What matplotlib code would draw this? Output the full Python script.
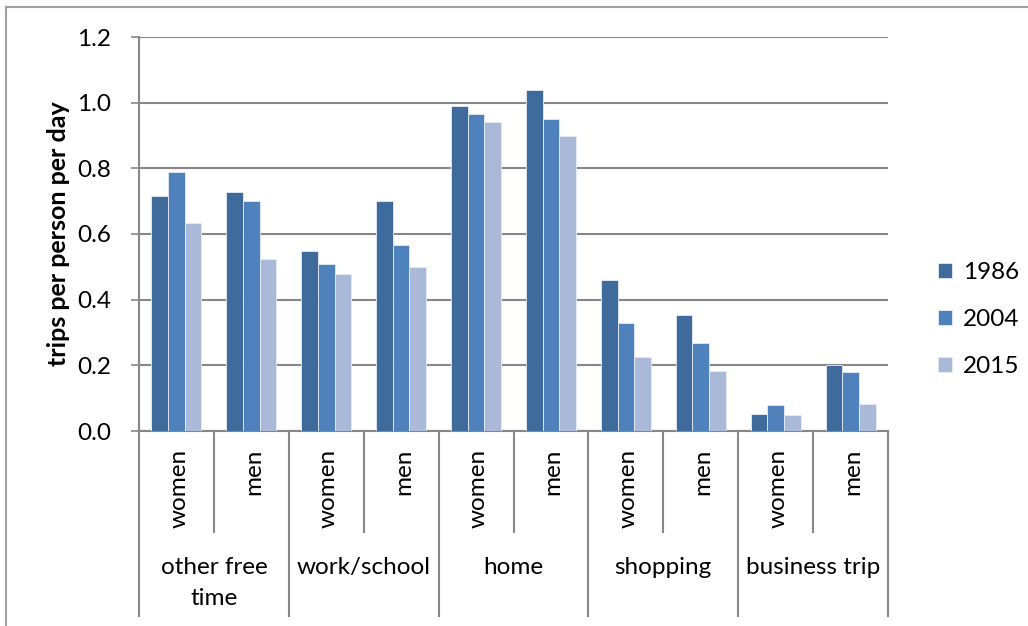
import matplotlib
matplotlib.use("Agg")
import matplotlib.pyplot as plt
from matplotlib.lines import Line2D
import numpy as np

groups = ["other free\ntime", "work/school", "home", "shopping", "business trip"]
genders = ["women", "men"]
years = ["1986", "2004", "2015"]
v1986 = [0.715, 0.727, 0.548, 0.701, 0.989, 1.040, 0.459, 0.354, 0.052, 0.200]
v2004 = [0.788, 0.702, 0.509, 0.565, 0.967, 0.950, 0.330, 0.267, 0.078, 0.180]
v2015 = [0.632, 0.525, 0.478, 0.499, 0.940, 0.898, 0.224, 0.184, 0.050, 0.082]
yticks = [0.0, 0.2, 0.4, 0.6, 0.8, 1.0, 1.2]
ylabel = "trips per person per day"

colors = ["#3F6A9C", "#4F81BD", "#AAB9D7"]
FONT = ["Lato", "DejaVu Sans"]
plt.rcParams['font.family'] = FONT
FS = 17.5

W, H = 1028, 626
fig = plt.figure(figsize=(W / 100, H / 100), dpi=100)
ax = fig.add_axes([139 / W, 1 - 431 / H, (888 - 139) / W, (431 - 37) / H])

series = [v1986, v2004, v2015]
n = len(v1986)
x = np.arange(n)
bw = 1 / 4.5
for i, (vals, c, lab) in enumerate(zip(series, colors, years)):
    ax.bar(x + (i - 1) * bw, vals, width=bw, color=c, edgecolor="#E6ECF5",
           linewidth=0.6, label=lab, zorder=3)

ax.set_xlim(-0.5, n - 0.5)
ax.set_ylim(0, 1.2)
ax.set_yticks(yticks)
ax.set_yticklabels([f"{t:.1f}" for t in yticks], fontsize=FS)
ax.yaxis.grid(True, color="#878787", linewidth=1.5, zorder=0)
ax.tick_params(axis='y', length=6, width=1.2, color="#878787", pad=14)
ax.set_xticks([])
for s in ["top", "right"]:
    ax.spines[s].set_visible(False)
for s in ["left", "bottom"]:
    ax.spines[s].set_color("#878787")
    ax.spines[s].set_linewidth(1.5)
ax.set_ylabel(ylabel, fontsize=FS + 0.5, fontweight="bold", labelpad=5)

# category separators
axh = 431 - 37
inner_bot = (431 - 532) / axh
outer_bot = (431 - 616) / axh
trans = ax.get_xaxis_transform()
for b in np.arange(-0.5, n, 1.0):
    gi = int(b + 0.5)
    ybot = outer_bot if gi % 2 == 0 else inner_bot
    ax.add_line(Line2D([b, b], [0, ybot], transform=trans, color="#878787",
                       linewidth=1.5, clip_on=False))

# gender labels
for i in range(n):
    ax.text(i + 0.03, (431 - 449) / axh, genders[i % 2], transform=trans,
            rotation=90, ha="center", va="top", fontsize=FS)

# group labels
for g, name in enumerate(groups):
    ax.text(2 * g + 0.5, (431 - 557) / axh, name, transform=trans,
            ha="center", va="top", fontsize=FS, linespacing=1.6)

leg = ax.legend(loc="upper left", bbox_to_anchor=(1.037, 0.485), frameon=False,
                fontsize=FS, handlelength=0.6, handleheight=0.6,
                handletextpad=0.45, labelspacing=1.08)

# outer border
fig.add_artist(Line2D([6 / W, 6 / W], [0, 1 - 7 / H], transform=fig.transFigure,
                      color="#A0A0A0", linewidth=1.5))
fig.add_artist(Line2D([6 / W, 1], [1 - 7 / H, 1 - 7 / H], transform=fig.transFigure,
                      color="#A0A0A0", linewidth=1.5))

fig.savefig("out.png", dpi=100)
